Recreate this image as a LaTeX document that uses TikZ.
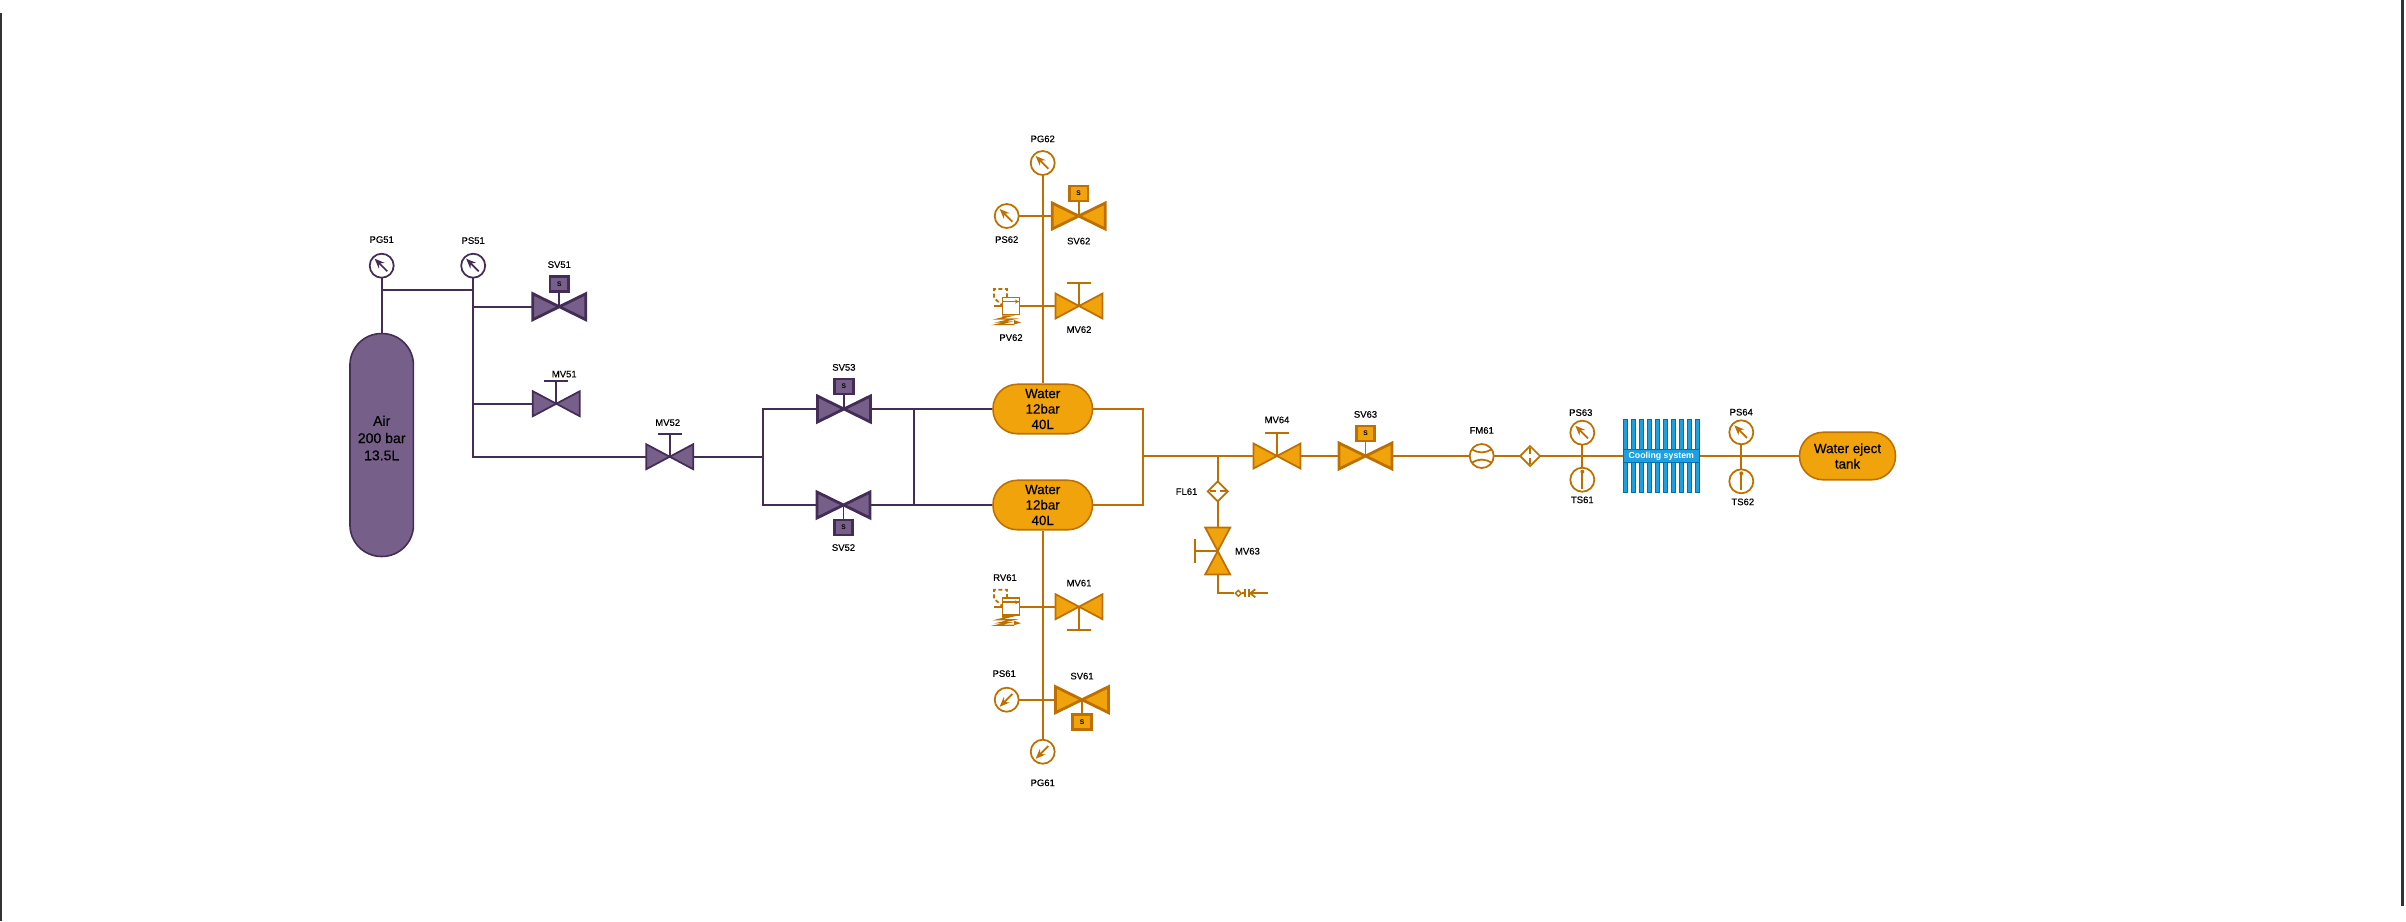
\documentclass[tikz,border=0pt]{standalone}
\usepackage{fontspec}
\setmainfont{Liberation Sans}
\newfontfamily\heavy[FakeBold=.35]{Liberation Sans}
\usepackage{xcolor}
\usetikzlibrary{arrows.meta,positioning,shapes.geometric}

\definecolor{airline}{HTML}{432D57}
\definecolor{airfill}{HTML}{76608A}
\definecolor{waterline}{HTML}{BD7000}
\definecolor{waterfill}{HTML}{F0A30A}
\definecolor{coolline}{HTML}{006EAF}
\definecolor{coolfill}{HTML}{1BA1E2}
\colorlet{sysline}{airline}
\colorlet{sysfill}{airfill}

\newcommand{\valvebody}[1]{\draw[draw=sysline,fill=sysfill,line width=#1]
  (\tikzlastnode.north west)--(\tikzlastnode.south east)--(\tikzlastnode.north east)--(\tikzlastnode.south west)--cycle;}

\tikzset{
  lab/.style={font=\heavy\fontsize{5.4}{6}\selectfont,inner sep=0pt,text height=.14cm,text depth=0pt},
  pipe/.style={draw=sysline,line width=1pt},
  fatpipe/.style={draw=sysline,line width=1.6pt},
  tank/.style={draw=sysline,fill=sysfill,line width=.9pt,align=center,inner sep=0pt,
               font=\heavy\fontsize{7.6}{8.8}\selectfont},
  mv/.style={minimum width=.94cm,minimum height=.5cm,inner sep=0pt,outer sep=0pt,rotate=#1,
    append after command={\pgfextra{\valvebody{1pt}
      \draw[pipe,shift={(\tikzlastnode.center)},rotate=#1] (0,0)--(0,-23) (-12,-23)--(12,-23);}}},
  sv/.style={minimum width=1.06cm,minimum height=.52cm,inner sep=0pt,outer sep=0pt,
    append after command={\pgfextra{\valvebody{1.6pt}}}},
  sbox/.style={draw=sysline,fill=sysfill,line width=1.6pt,minimum width=.37cm,minimum height=.3cm,
               inner sep=0pt,outer sep=0pt,font=\fontsize{3.8}{4}\selectfont\bfseries},
  dial/.style={circle,draw=sysline,line width=1pt,minimum size=.48cm,inner sep=0pt,outer sep=0pt},
  gauge/.style={dial,append after command={\pgfextra{
      \draw[pipe,-{Stealth[length=2mm,width=1.6mm]}]
        ([shift={(#1:-.16cm)}]\tikzlastnode.center)--([shift={(#1:.2cm)}]\tikzlastnode.center);}}},
  thermo/.style={dial,append after command={\pgfextra{
      \fill[sysline,shift={(\tikzlastnode.center)}] (0,-8) circle (2);
      \draw[pipe,shift={(\tikzlastnode.center)}] (0,-8)--(0,9);}}},
  flowm/.style={dial,append after command={\pgfextra{
      \draw[pipe] (\tikzlastnode.145) to[bend right=35] (\tikzlastnode.35);
      \draw[pipe] (\tikzlastnode.215) to[bend left=35] (\tikzlastnode.325);}}},
  filt/.style={diamond,draw=sysline,line width=1pt,aspect=1,minimum size=.4cm,inner sep=0pt,outer sep=0pt,
    append after command={\pgfextra{
      \draw[pipe,shift={(\tikzlastnode.center)},rotate=#1,dash pattern=on .13cm off .08cm]
        (-8,0)--(8,0);}}},
  relief/.style={draw=sysline,line width=1pt,minimum size=.34cm,inner sep=0pt,outer sep=0pt,
    append after command={\pgfextra{
      \begin{scope}[shift={(\tikzlastnode.center)}]
        \draw[pipe] (-17,0)--(-8.7,0);
        \draw[pipe] (-8.7,-4.4)--(8.7,-4.4);
        \draw[pipe,-{Stealth[length=.8mm,width=.8mm]}] (0,-4.4)--(8,-4.4);
        \draw[pipe,dash pattern=on .08cm off .05cm] (-4,-8.7)--(-4,-17)--(-17,-17)--(-17,-8)--(-9,-1);
        \draw[draw=sysline,line width=.8pt] (-9,10)--(-1,10)--(-13,13)--(2,13)--(-11,16)--(-3,16)--(-14,18.5)--(3,18.5);
        \fill[sysline] (3,14)--(10,16.5)--(3,18.5)--cycle;
      \end{scope}}}},
  fin/.style={draw=coolline,fill=coolfill,line width=.6pt,minimum width=.08cm,minimum height=1.46cm,inner sep=0pt},
  coolbar/.style={draw=coolline,fill=coolfill,line width=.6pt,minimum width=1.52cm,minimum height=.27cm,inner sep=0pt,
                  text=white,font=\fontsize{5}{6}\selectfont\bfseries}
}

\begin{document}
\begin{tikzpicture}[x=.02cm,y=-.02cm]
  \useasboundingbox (0,0) rectangle (2406,921);
  \coordinate (edgeat) at (1.3,13);
  \coordinate (edgeab) at (1.3,921);
  \coordinate (edgebt) at (2402.5,0);
  \coordinate (edgebb) at (2402.5,906);
  \draw[line width=1.2pt,black!80] (edgeat)--(edgeab) (edgebt)--(edgebb);

  % air side
  \node[tank,minimum width=1.27cm,minimum height=4.46cm,rounded corners=.63cm,
        label={[yshift=.14cm,align=center,inner sep=0pt,font=\heavy\fontsize{8}{9.8}\selectfont]center:Air\\200 bar\\13.5L}]
        (air) at (381.7,445) {};
  \node[gauge=135] (pg51) at (381.7,265.7) {};
  \node[gauge=135,right=1.35cm of pg51] (ps51) {};
  \node[sv] (sv51) at (559.3,306.7) {};
  \node[sbox,above=.3cm of sv51.center] (sv51s) {S};
  \node[mv=0] (mv51) at (556.3,403.7) {};
  \node[mv=0] (mv52) at (669.7,456.7) {};
  \node[sv] (sv53) at (843.9,409) {};
  \node[sbox,above=.3cm of sv53.center] (sv53s) {S};
  \node[sv] (sv52) at (843.5,505) {};
  \node[sbox,below=.3cm of sv52.center] (sv52s) {S};
  \coordinate (j51) at (473.3,290);
  \coordinate (j52a) at (763.3,456.7);
  \coordinate (j52b) at (913.7,409);
  \coordinate (j52c) at (913.7,505);

  \node[lab,above=.21cm of pg51] (pg51t) {PG51};
  \node[lab,above=.19cm of ps51] (ps51t) {PS51};
  \node[lab,above=.17cm of sv51s] (sv51t) {SV51};
  \node[lab,above=.27cm of mv51,xshift=.16cm] (mv51t) {MV51};
  \node[lab,above=.36cm of mv52,xshift=-.04cm] (mv52t) {MV52};
  \node[lab,above=.16cm of sv53s] (sv53t) {SV53};
  \node[lab,below=.17cm of sv52s] (sv52t) {SV52};

  \draw[pipe] (air.north)--(pg51.south);
  \draw[fatpipe] (pg51.south |- j51)--(j51);
  \draw[pipe] (ps51.south)|-(sv51.west);
  \draw[pipe] (ps51.south)|-(mv51.west);
  \draw[pipe] (ps51.south)|-(mv52.west);
  \draw[pipe] (mv52.east)--(j52a);
  \draw[pipe] (j52a)|-(sv53.west);
  \draw[pipe] (j52a)|-(sv52.west);
  \draw[pipe] (sv53.center)--(sv53s.south);
  \draw[pipe] (sv51.center)--(sv51s.south);
  \draw[pipe] (sv52.center)--(sv52s.north);
  \draw[pipe] (j52b)--(j52c);

  % water side
  \colorlet{sysline}{waterline}
  \colorlet{sysfill}{waterfill}
  \node[tank,minimum width=1.99cm,minimum height=.99cm,rounded corners=.49cm] (wt1) at (1042.7,409) {Water\\12bar\\40L};
  \node[tank,minimum width=1.99cm,minimum height=.99cm,rounded corners=.49cm] (wt2) at (1042.7,505) {Water\\12bar\\40L};
  \draw[pipe,draw=airline] (sv53.east)--(wt1.west);
  \draw[pipe,draw=airline] (sv52.east)--(wt2.west);
  \node[gauge=135] (pg62) at (1042.7,163) {};
  \node[gauge=135] (ps62) at (1006.7,216) {};
  \node[sv] (sv62) at (1078.7,216) {};
  \node[sbox,above=.3cm of sv62.center] (sv62s) {S};
  \node[mv=0] (mv62) at (1079,306) {};
  \node[relief] (pv62) at (1011,306) {};
  \node[relief] (rv61) at (1011,606.7) {};
  \node[mv=180] (mv61) at (1079,606.7) {};
  \node[gauge=225] (ps61) at (1006.7,699.7) {};
  \node[sv] (sv61) at (1082,699.7) {};
  \node[sbox,below=.3cm of sv61.center] (sv61s) {S};
  \node[gauge=225] (pg61) at (1042.7,751.7) {};
  \node[mv=0] (mv64) at (1277,456) {};
  \node[sv] (sv63) at (1365.5,456) {};
  \node[sbox,above=.3cm of sv63.center] (sv63s) {S};
  \node[filt=0] (fl61) at (1217.7,491.3) {};
  \node[mv=90] (mv63) at (1217.7,551) {};
  \node[flowm] (fm61) at (1481.7,456) {};
  \node[filt=90] (fl62) at (1530,456) {};
  \node[gauge=135] (ps63) at (1582.3,432.7) {};
  \node[thermo] (ts61) at (1582.3,479.7) {};
  \node[gauge=135] (ps64) at (1741.3,432.3) {};
  \node[thermo] (ts62) at (1741.3,481.3) {};
  \node[tank,minimum width=1.92cm,minimum height=.95cm,rounded corners=.47cm] (eject) at (1847.5,456) {Water eject\\tank};
  \coordinate (busj) at (1142.7,456);
  \coordinate (flj) at (1217.7,456);
  \coordinate (qca) at (1245,593.3);
  \coordinate (qcb) at (1249.3,593.3);
  \coordinate (drain) at (1267.7,593.3);
  \node[diamond,draw=sysline,fill=white,line width=.8pt,minimum size=.13cm,inner sep=0pt] (qcd) at (1238.3,593.3) {};

  \foreach \i in {0,...,9}
    \node[fin] (fin\i) at ({1625.3+8*\i},456) {};
  \node[coolbar] (cool) at (1661.3,456) {Cooling system};

  \node[lab,above=.17cm of pg62] (pg62t) {PG62};
  \node[lab,below=.15cm of ps62] (ps62t) {PS62};
  \node[lab,below=.16cm of sv62] (sv62t) {SV62};
  \node[lab,below=.14cm of mv62] (mv62t) {MV62};
  \node[lab,below=.38cm of pv62] (pv62t) {PV62};
  \node[lab,above=.34cm of rv61,xshift=-.12cm] (rv61t) {RV61};
  \node[lab,above=.15cm of mv61.south] (mv61t) {MV61};
  \node[lab,above=.21cm of ps61,xshift=-.05cm] (ps61t) {PS61};
  \node[lab,above=.14cm of sv61] (sv61t) {SV61};
  \node[lab,below=.3cm of pg61] (pg61t) {PG61};
  \node[lab,above=.4cm of mv64] (mv64t) {MV64};
  \node[lab,above=.16cm of sv63s] (sv63t) {SV63};
  \node[lab,left=.2cm of fl61] (fl61t) {FL61};
  \node[lab,right=.34cm of mv63.center] (mv63t) {MV63};
  \node[lab,above=.2cm of fm61] (fm61t) {FM61};
  \node[lab,above=.09cm of ps63,xshift=-.03cm] (ps63t) {PS63};
  \node[lab,below=.08cm of ts61] (ts61t) {TS61};
  \node[lab,above=.09cm of ps64] (ps64t) {PS64};
  \node[lab,below=.09cm of ts62,xshift=.03cm] (ts62t) {TS62};

  \draw[pipe] (wt1.north)--(pg62.south);
  \draw[pipe] (wt2.south)--(pg61.north);
  \draw[pipe] (ps62.east)--(sv62.west);
  \draw[pipe] (pv62.east)--(mv62.west);
  \draw[pipe] (rv61.east)--(mv61.east);
  \draw[pipe] (ps61.east)--(sv61.west);
  \draw[pipe] (sv62.center)--(sv62s.south);
  \draw[pipe] (sv61.center)--(sv61s.north);
  \draw[pipe] (sv63.center)--(sv63s.south);
  \draw[pipe] (wt1.east)-|(busj);
  \draw[pipe] (wt2.east)-|(busj);
  \draw[pipe] (busj)--(mv64.west);
  \draw[fatpipe] (mv64.east)--(sv63.west);
  \draw[pipe] (sv63.east)--(fm61.west);
  \draw[pipe] (flj)--(fl61.north);
  \draw[pipe] (fl61.south)--(mv63.east);
  \draw[pipe] (mv63.west)|-(qcd.west);
  \draw[pipe] (qcd.east)--(qca);
  \draw[pipe] ([yshift=.08cm]qca)--([yshift=-.08cm]qca);
  \draw[pipe] ([yshift=.08cm]qcb)--([yshift=-.08cm]qcb);
  \draw[pipe] (qcb)--(drain);
  \draw[pipe] ([xshift=.12cm,yshift=.08cm]qcb)--([xshift=.02cm]qcb)--([xshift=.12cm,yshift=-.08cm]qcb);
  \draw[pipe] (fm61.east)--(fl62.west);
  \draw[pipe] (fl62.east)--(cool.west);
  \draw[pipe] (ps63.south)--(ts61.north);
  \draw[pipe] (cool.east)--(eject.west);
  \draw[pipe] (ps64.south)--(ts62.north);
\end{tikzpicture}
\end{document}
